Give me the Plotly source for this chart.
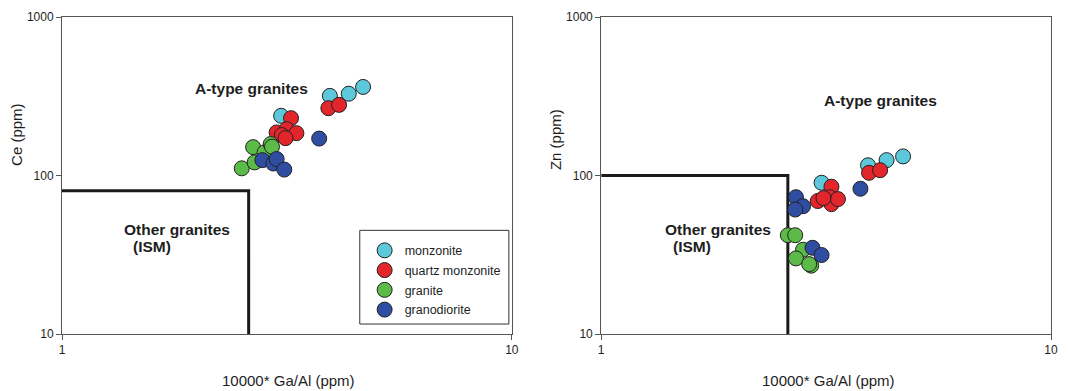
import plotly.graph_objects as go

# ---------------- data ----------------
groups = ["monzonite", "quartz monzonite", "granite", "granodiorite"]
colors = ["#5cc8d9", "#e3262b", "#5bba48", "#2f4ea2"]

# Left panel: Ce vs 10000*Ga/Al
ce_monz_x = [3.07, 3.94, 4.34, 4.67]
ce_monz_y = [238, 318, 328, 362]
ce_qm_x = [3.23, 3.00, 3.16, 3.32, 3.08, 3.14, 3.91, 4.13]
ce_qm_y = [230, 187, 196, 185, 180, 172, 266, 279]
ce_gr_x = [2.51, 2.66, 2.68, 2.82, 2.91, 2.93]
ce_gr_y = [111, 151, 121, 140, 158, 152]
ce_gd_x = [3.73, 2.79, 2.95, 3.00, 3.12]
ce_gd_y = [171, 125, 119, 127, 109]

# Right panel: Zn vs 10000*Ga/Al
zn_monz_x = [3.92, 4.31, 4.69, 3.09]
zn_monz_y = [116, 125, 132, 90]
zn_qm_x = [3.94, 4.17, 3.25, 3.22, 3.03, 3.25, 3.36, 3.12]
zn_qm_y = [104, 108, 85, 73, 69, 66, 71, 72]
zn_gr_x = [2.60, 2.70, 2.81, 2.71, 2.93, 2.90]
zn_gr_y = [42, 42, 34, 30, 27, 27.6]
zn_gd_x = [3.77, 2.71, 2.81, 2.70, 2.95, 3.09]
zn_gd_y = [82.5, 73, 64, 61, 35, 31.5]

# Discrimination boundaries
ce_bound_x = [1, 2.6, 2.6]
ce_bound_y = [80, 80, 10]
zn_bound_x = [1, 2.6, 2.6]
zn_bound_y = [100, 100, 10]

x_ticks = [1, 10]
y_ticks = [10, 100, 1000]

FONT = "Liberation Sans, Arial, sans-serif"
TXT = "#1e1e1e"
AX = "#555555"

fig = go.Figure()

# boundary lines
fig.add_trace(go.Scatter(x=ce_bound_x, y=ce_bound_y, mode="lines",
                         line=dict(color="#1a1a1a", width=3),
                         showlegend=False, hoverinfo="skip", xaxis="x", yaxis="y"))
fig.add_trace(go.Scatter(x=zn_bound_x, y=zn_bound_y, mode="lines",
                         line=dict(color="#1a1a1a", width=3),
                         showlegend=False, hoverinfo="skip", xaxis="x2", yaxis="y2"))

left = [(ce_monz_x, ce_monz_y), (ce_qm_x, ce_qm_y), (ce_gr_x, ce_gr_y), (ce_gd_x, ce_gd_y)]
right = [(zn_monz_x, zn_monz_y), (zn_qm_x, zn_qm_y), (zn_gr_x, zn_gr_y), (zn_gd_x, zn_gd_y)]

for i, (name, col) in enumerate(zip(groups, colors)):
    mk = dict(size=15, color=col, line=dict(color="#222222", width=1))
    fig.add_trace(go.Scatter(x=left[i][0], y=left[i][1], mode="markers", name=name,
                             marker=mk, legendgroup=name, xaxis="x", yaxis="y"))
    fig.add_trace(go.Scatter(x=right[i][0], y=right[i][1], mode="markers", name=name,
                             marker=mk, legendgroup=name, showlegend=False,
                             xaxis="x2", yaxis="y2"))

axis_common = dict(type="log", showgrid=False, zeroline=False, showline=True,
                   linecolor=AX, linewidth=1, mirror=True, ticks="outside",
                   ticklen=5, tickcolor=AX, tickwidth=1,
                   tickfont=dict(family=FONT, size=12, color=TXT))

fig.update_layout(
    width=1068, height=391,
    margin=dict(l=62, r=10, t=16, b=57),
    paper_bgcolor="white", plot_bgcolor="white",
    font=dict(family=FONT, color=TXT),
    xaxis=dict(domain=[0, 453 / 996], range=[0, 1], tickvals=x_ticks,
               ticktext=[str(v) for v in x_ticks], anchor="y", **axis_common),
    yaxis=dict(domain=[0, 1], range=[1, 3], tickvals=y_ticks,
               ticktext=[str(v) for v in y_ticks], anchor="x", **axis_common),
    xaxis2=dict(domain=[543 / 996, 1], range=[0, 1], tickvals=x_ticks,
                ticktext=[str(v) for v in x_ticks], anchor="y2", **axis_common),
    yaxis2=dict(domain=[0, 1], range=[1, 3], tickvals=y_ticks,
                ticktext=[str(v) for v in y_ticks], anchor="x2", **axis_common),
    legend=dict(x=0.306, y=0.31, xanchor="left", yanchor="top",
                bgcolor="rgba(0,0,0,0)", borderwidth=0,
                font=dict(family=FONT, size=12.5, color=TXT),
                tracegroupgap=0.5),
    showlegend=True,
)

# legend frame
fig.add_shape(type="rect", xref="x domain", yref="y domain",
              x0=0.662, x1=0.9934, y0=0.0314, y1=0.327,
              line=dict(color="#333333", width=1), fillcolor="rgba(0,0,0,0)")

bold = dict(family=FONT, size=15.5, color=TXT)
ann = [
    dict(text="<b>A-type granites</b>", xref="x domain", yref="y domain", x=0.4205, y=0.774),
    dict(text="<b>Other granites</b>", xref="x domain", yref="y domain", x=0.256, y=0.331),
    dict(text="<b>(ISM)</b>", xref="x domain", yref="y domain", x=0.201, y=0.277),
    dict(text="<b>A-type granites</b>", xref="x2 domain", yref="y2 domain", x=0.621, y=0.736),
    dict(text="<b>Other granites</b>", xref="x2 domain", yref="y2 domain", x=0.259, y=0.331),
    dict(text="<b>(ISM)</b>", xref="x2 domain", yref="y2 domain", x=0.203, y=0.277),
]
for a in ann:
    fig.add_annotation(showarrow=False, font=bold, xanchor="center", yanchor="middle", **a)

title_font = dict(family=FONT, size=15, color=TXT)
fig.add_annotation(text="Ce (ppm)", xref="paper", yref="paper", x=-46 / 996, y=200 / 318,
                   textangle=-90, showarrow=False, font=title_font,
                   xanchor="center", yanchor="middle")
fig.add_annotation(text="Zn (ppm)", xref="paper", yref="paper", x=497 / 996, y=195 / 318,
                   textangle=-90, showarrow=False, font=title_font,
                   xanchor="center", yanchor="middle")
fig.add_annotation(text="10000* Ga/Al (ppm)", xref="paper", yref="paper", x=228 / 996,
                   y=-47 / 318, showarrow=False, font=title_font,
                   xanchor="center", yanchor="middle")
fig.add_annotation(text="10000* Ga/Al (ppm)", xref="paper", yref="paper", x=772 / 996,
                   y=-47 / 318, showarrow=False, font=title_font,
                   xanchor="center", yanchor="middle")

# remove the default 8px page margin so the figure fills the window exactly
fig.write_html("out.html",
               config={"displayModeBar": False},
               post_script="document.body.style.margin='0';"
                           "document.body.style.overflow='hidden';")
